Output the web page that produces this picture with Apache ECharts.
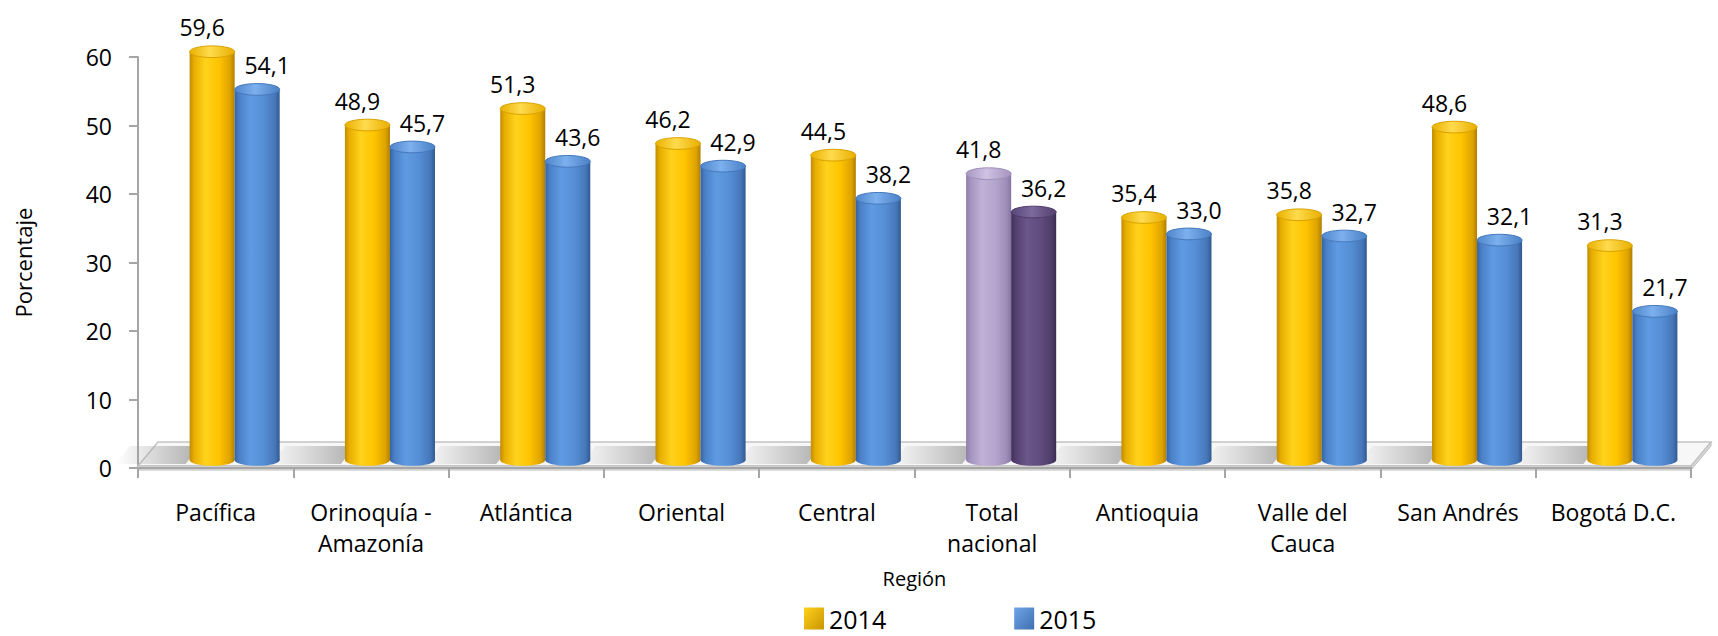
<!DOCTYPE html>
<html>
<head>
<meta charset="utf-8">
<script src="https://cdn.jsdelivr.net/npm/echarts@6/dist/echarts.min.js"></script>
<style>
  html, body { margin: 0; padding: 0; background: #fff; }
  #chart { width: 1718px; height: 636px; }
</style>
</head>
<body>
<div id="chart"></div>
<script>
// Regions, in the order they are plotted
const regions = [
  'Pacífica', 'Orinoquía -\nAmazonía', 'Atlántica', 'Oriental', 'Central',
  'Total\nnacional', 'Antioquia', 'Valle del\nCauca', 'San Andrés', 'Bogotá D.C.'
];
// Percentages per year
const values2014 = [59.6, 48.9, 51.3, 46.2, 44.5, 41.8, 35.4, 35.8, 48.6, 31.3];
const values2015 = [54.1, 45.7, 43.6, 42.9, 38.2, 36.2, 33.0, 32.7, 32.1, 21.7];
const years = ['2014', '2015'];
// Value axis ticks
const yMin = 0, yMax = 60, yStep = 10;
// The national total is drawn in its own colours
const nationalIndex = 5;

const FONT = '"Open Sans", "DejaVu Sans", sans-serif';
const DEPTH_X = 19, DEPTH_Y = 8;      // 3D depth shift of the cylinders
const FLOOR_DX = 20, FLOOR_DY = 24;   // floor slab depth

function hGrad(stops) {
  return new echarts.graphic.LinearGradient(0, 0, 1, 0,
    stops.map(([o, c]) => ({ offset: o, color: c })));
}

const palettes = {
  gold: {
    body: [[0, '#C18C00'], [0.1, '#E8AE00'], [0.35, '#FFD21C'], [0.65, '#FFC400'], [0.9, '#DEA300'], [1, '#B07E00']],
    cap: [[0, '#E9B000'], [0.45, '#FFDB4D'], [1, '#E8AE00']],
    rim: '#D9A200'
  },
  blue: {
    body: [[0, '#3563A3'], [0.1, '#4A80C6'], [0.35, '#5F9BE2'], [0.65, '#558ED5'], [0.9, '#4676B8'], [1, '#30598F']],
    cap: [[0, '#4F86CC'], [0.45, '#7CB0EE'], [1, '#4A80C6']],
    rim: '#4579BC'
  },
  lilac: {
    body: [[0, '#8E7DA8'], [0.1, '#A594BF'], [0.35, '#C0B0D6'], [0.65, '#B5A4CC'], [0.9, '#9E8DB8'], [1, '#85749F']],
    cap: [[0, '#A898C2'], [0.45, '#CFC2E2'], [1, '#A594BF']],
    rim: '#A08FBA'
  },
  plum: {
    body: [[0, '#3F2F57'], [0.1, '#53406F'], [0.35, '#6A5689'], [0.65, '#604C7E'], [0.9, '#4E3C68'], [1, '#3A2B50']],
    cap: [[0, '#58457A'], [0.45, '#7D6A9C'], [1, '#53406F']],
    rim: '#4E3C69'
  }
};

const fmt = v => v.toFixed(1).replace('.', ',');

// Draws one cylinder (body, base, cap) with its value label
function cylinder(slot, normal, special) {
  return function (params, api) {
    const idx = api.value(0);
    const val = api.value(1);
    const top = api.coord([idx, val]);
    const base = api.coord([idx, 0]);
    const band = api.size([1, 0])[0];
    const w = band * 0.29;
    const rx = w / 2, ry = w * 0.13;
    const cx = top[0] + (slot - 0.5) * w + DEPTH_X;
    const yTop = top[1] - DEPTH_Y;
    const yBase = base[1] - DEPTH_Y;
    const p = idx === nationalIndex ? palettes[special] : palettes[normal];
    return {
      type: 'group',
      children: [
        { type: 'ellipse', shape: { cx: cx, cy: yBase, rx: rx, ry: ry }, style: { fill: hGrad(p.body) } },
        { type: 'rect', shape: { x: cx - rx, y: yTop, width: w, height: yBase - yTop }, style: { fill: hGrad(p.body) } },
        { type: 'ellipse', shape: { cx: cx, cy: yTop, rx: rx, ry: ry }, style: { fill: hGrad(p.cap), stroke: p.rim, lineWidth: 1 } },
        {
          type: 'text',
          style: {
            text: fmt(val), x: cx + (slot - 0.5) * 20, y: yTop - ry - 7,
            align: 'center', verticalAlign: 'bottom',
            fontFamily: FONT, fontSize: 23, fill: '#000'
          }
        }
      ]
    };
  };
}

// Floor slab under the cylinders, with soft shadows in front of each pair
function floor(params, api) {
  const n = regions.length;
  const band = api.size([1, 0])[0];
  const L = api.coord([0, 0])[0] - band / 2;
  const R = api.coord([n - 1, 0])[0] + band / 2;
  const y0 = api.coord([0, 0])[1] - 2;
  const children = [
    {
      type: 'polygon',
      shape: { points: [[L, y0], [R, y0], [R + FLOOR_DX, y0 - FLOOR_DY], [L + FLOOR_DX, y0 - FLOOR_DY]] },
      style: { fill: '#f7f7f7', stroke: '#c4c4c4', lineWidth: 1.5 }
    }
  ];
  for (let i = 0; i < n; i++) {
    const c = api.coord([i, 0])[0] + DEPTH_X;
    const w = band * 0.29;
    const x1 = c - w - 4;
    children.push({
      type: 'polygon',
      shape: { points: [[x1 - 70, y0 - 2], [x1, y0 - 2], [x1 + 14, y0 - FLOOR_DY + 4], [x1 - 56, y0 - FLOOR_DY + 4]] },
      style: {
        fill: new echarts.graphic.LinearGradient(0, 0, 1, 0, [
          { offset: 0, color: 'rgba(160,160,160,0)' },
          { offset: 1, color: 'rgba(150,150,150,0.75)' }
        ])
      }
    });
  }
  children.push(
    {
      type: 'polygon',
      shape: { points: [[L, y0], [R, y0], [R, y0 + 4], [L, y0 + 4]] },
      style: { fill: '#e3e3e3', stroke: '#bcbcbc', lineWidth: 1 }
    },
    {
      type: 'polygon',
      shape: { points: [[R, y0], [R + FLOOR_DX, y0 - FLOOR_DY], [R + FLOOR_DX, y0 - FLOOR_DY + 4], [R, y0 + 4]] },
      style: { fill: '#d6d6d6', stroke: '#bcbcbc', lineWidth: 1 }
    }
  );
  return { type: 'group', children: children };
}

const chart = echarts.init(document.getElementById('chart'), null, { renderer: 'svg' });

chart.setOption({
  backgroundColor: '#ffffff',
  animation: false,
  grid: { left: 138, right: 27, top: 57, bottom: 168, containLabel: false },
  legend: {
    data: years,
    left: 799, top: 601,
    itemWidth: 20, itemHeight: 22, itemGap: 128,
    icon: 'rect',
    textStyle: { fontFamily: FONT, fontSize: 25, color: '#000' }
  },
  xAxis: {
    type: 'category',
    data: regions,
    boundaryGap: true,
    name: 'Región',
    nameLocation: 'middle',
    nameGap: 100,
    nameTextStyle: { fontFamily: FONT, fontSize: 20, color: '#000' },
    axisLine: { show: true, lineStyle: { color: '#a6a6a6', width: 2 } },
    axisTick: { show: true, length: 10, lineStyle: { color: '#a6a6a6', width: 2 } },
    axisLabel: { margin: 28, fontFamily: FONT, fontSize: 23, color: '#000', lineHeight: 31, interval: 0 },
    z: 3
  },
  yAxis: {
    type: 'value',
    min: yMin, max: yMax, interval: yStep,
    name: 'Porcentaje',
    nameLocation: 'middle',
    nameGap: 104,
    nameRotate: 90,
    nameTextStyle: { fontFamily: FONT, fontSize: 22, color: '#000' },
    axisLine: { show: true, lineStyle: { color: '#a6a6a6', width: 2 } },
    axisTick: { show: true, length: 9, lineStyle: { color: '#a6a6a6', width: 2 } },
    axisLabel: { margin: 26, fontFamily: FONT, fontSize: 23, color: '#000' },
    splitLine: { show: false }
  },
  series: [
    {
      name: 'floor',
      type: 'custom',
      renderItem: floor,
      data: [[0, 0]],
      silent: true,
      z: 1,
      legendHoverLink: false
    },
    {
      name: years[0],
      type: 'custom',
      renderItem: cylinder(0, 'gold', 'lilac'),
      data: values2014.map((v, i) => [i, v]),
      itemStyle: {
        color: new echarts.graphic.LinearGradient(0, 0, 1, 1, [
          { offset: 0, color: '#FFD21C' }, { offset: 1, color: '#C99400' }
        ])
      },
      z: 5
    },
    {
      name: years[1],
      type: 'custom',
      renderItem: cylinder(1, 'blue', 'plum'),
      data: values2015.map((v, i) => [i, v]),
      itemStyle: {
        color: new echarts.graphic.LinearGradient(0, 0, 1, 1, [
          { offset: 0, color: '#6FA6E8' }, { offset: 1, color: '#3E6FB0' }
        ])
      },
      z: 6
    }
  ]
});
</script>
</body>
</html>
